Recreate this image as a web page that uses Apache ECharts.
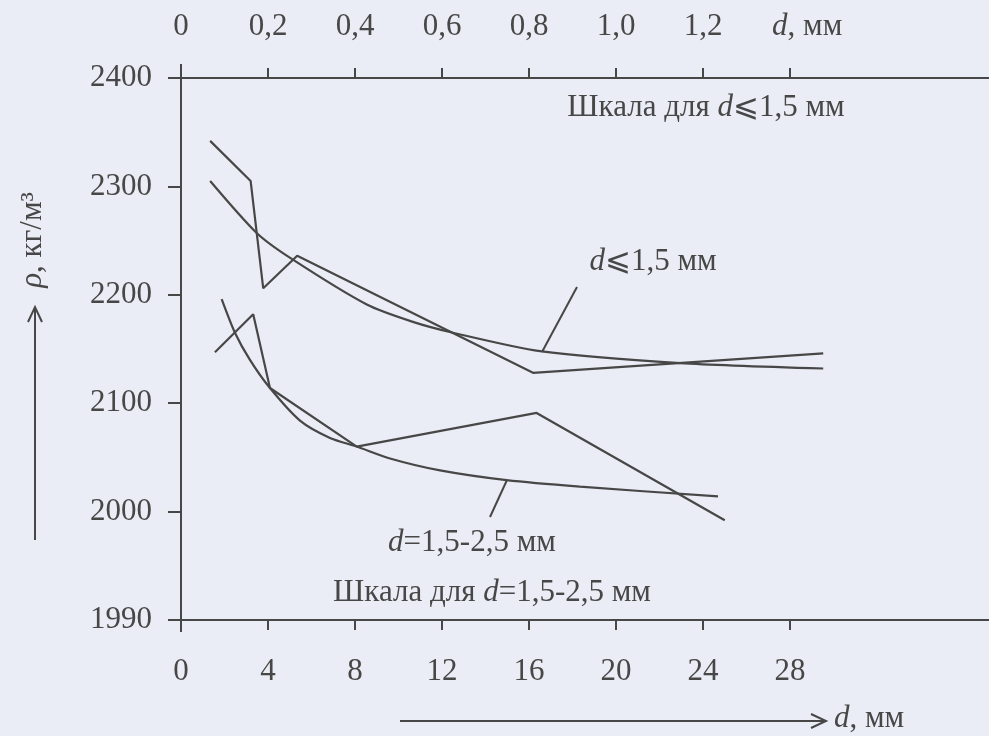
<!DOCTYPE html>
<html>
<head>
<meta charset="utf-8">
<script src="https://cdn.jsdelivr.net/npm/echarts@6/dist/echarts.min.js"></script>
<style>
html, body { margin: 0; padding: 0; background: #eaedf5; }
#main { width: 989px; height: 736px; }
</style>
</head>
<body>
<div id="main"></div>
<script>
// шкала для d <= 1,5 мм (верхняя ось)
var dSmallA = [0.067, 0.16, 0.189, 0.267, 0.809, 1.476];
var rhoSmallA = [2342, 2305, 2206, 2236, 2128, 2146];
var dSmallB = [0.067, 0.174, 0.251, 0.427, 0.533, 0.625, 0.825, 1.147, 1.476];
var rhoSmallB = [2305, 2257, 2234, 2191, 2175, 2165, 2148, 2137, 2132];
// шкала для d = 1,5-2,5 мм (нижняя ось)
var dLargeC = [1.87, 2.48, 3.17, 4.09, 5.47, 6.85, 8.08, 9.61, 11.91, 14.97, 18.34, 24.69];
var rhoLargeC = [2196, 2165, 2140, 2114, 2084, 2068, 2060, 2049, 2038, 2029, 2023, 2014];
var dLargeD = [1.56, 3.32, 4.09, 8.08, 16.35, 25.0];
var rhoLargeD = [2147, 2182, 2114, 2060, 2091, 1992];

// подписи осей
var topTicks = [0, 0.2, 0.4, 0.6, 0.8, 1.0, 1.2, 1.4];
var bottomTicks = [0, 4, 8, 12, 16, 20, 24, 28];
var rhoTicks = [1900, 2000, 2100, 2200, 2300, 2400];
var rhoLabels = ['1990', '2000', '2100', '2200', '2300', '2400'];

function pairs(xs, ys) {
    return xs.map(function (x, i) { return [x, ys[i]]; });
}

var ink = '#474747';
var font = '"Liberation Serif", "DejaVu Serif", serif';
var rich = {
    i: { fontStyle: 'italic', fontFamily: font, fontSize: 31, color: ink },
    j: { fontStyle: 'italic', fontFamily: font, fontSize: 31, color: ink, padding: [0, 0, 0, 34] }
};

var myChart = echarts.init(document.getElementById('main'));

var option = {
    backgroundColor: '#eaedf5',
    animation: false,
    grid: { left: 181, right: 0, top: 78, bottom: 116 },
    xAxis: [
        {
            type: 'value', position: 'top', min: 0, max: 1.857, interval: 0.2,
            splitLine: { show: false },
            axisLine: { onZero: false, lineStyle: { color: ink, width: 2 } },
            axisTick: { customValues: topTicks.slice(1), length: 10, lineStyle: { color: ink, width: 2 } },
            axisLabel: {
                customValues: topTicks, margin: 36, fontSize: 31, fontFamily: font, color: ink, rich: rich,
                formatter: function (v) {
                    if (Math.abs(v - 1.4) < 1e-6) return '{j|d}, мм';
                    return v === 0 ? '0' : v.toFixed(1).replace('.', ',');
                }
            }
        },
        {
            type: 'value', position: 'bottom', min: 0, max: 37.15, interval: 4,
            splitLine: { show: false },
            axisLine: { onZero: false, lineStyle: { color: ink, width: 2 } },
            axisTick: { customValues: bottomTicks.slice(1), length: 10, lineStyle: { color: ink, width: 2 } },
            axisLabel: { customValues: bottomTicks, margin: 36, fontSize: 31, fontFamily: font, color: ink }
        }
    ],
    yAxis: {
        type: 'value', min: 1900, max: 2400, interval: 100,
        splitLine: { show: false },
        axisLine: { lineStyle: { color: ink, width: 2 } },
        axisTick: { customValues: rhoTicks, length: 13, lineStyle: { color: ink, width: 2 } },
        axisLabel: {
            customValues: rhoTicks, margin: 29, fontSize: 31, fontFamily: font, color: ink,
            formatter: function (v) { return rhoLabels[rhoTicks.indexOf(v)]; }
        }
    },
    series: [
        { type: 'line', xAxisIndex: 0, data: pairs(dSmallA, rhoSmallA), symbol: 'none', lineStyle: { color: ink, width: 2.2 } },
        { type: 'line', xAxisIndex: 0, data: pairs(dSmallB, rhoSmallB), symbol: 'none', smooth: 0.25, lineStyle: { color: ink, width: 2.2 } },
        { type: 'line', xAxisIndex: 1, data: pairs(dLargeC, rhoLargeC), symbol: 'none', smooth: 0.25, lineStyle: { color: ink, width: 2.2 } },
        { type: 'line', xAxisIndex: 1, data: pairs(dLargeD, rhoLargeD), symbol: 'none', lineStyle: { color: ink, width: 2.2 } }
    ],
    graphic: [
        // ось ρ чуть выходит за рамку
        { type: 'line', shape: { x1: 181, y1: 64, x2: 181, y2: 632 }, style: { stroke: ink, lineWidth: 2 } },
        { type: 'text', x: 706, y: 108, style: { text: 'Шкала для {i|d}⩽1,5 мм', rich: rich, font: '31px ' + font, fill: ink, align: 'center', verticalAlign: 'middle' } },
        { type: 'text', x: 653, y: 262, style: { text: '{i|d}⩽1,5 мм', rich: rich, font: '31px ' + font, fill: ink, align: 'center', verticalAlign: 'middle' } },
        { type: 'line', shape: { x1: 542, y1: 352, x2: 577, y2: 287 }, style: { stroke: ink, lineWidth: 2 } },
        { type: 'text', x: 472, y: 543, style: { text: '{i|d}=1,5-2,5 мм', rich: rich, font: '31px ' + font, fill: ink, align: 'center', verticalAlign: 'middle' } },
        { type: 'line', shape: { x1: 507, y1: 480, x2: 490, y2: 517 }, style: { stroke: ink, lineWidth: 2 } },
        { type: 'text', x: 492, y: 593, style: { text: 'Шкала для {i|d}=1,5-2,5 мм', rich: rich, font: '31px ' + font, fill: ink, align: 'center', verticalAlign: 'middle' } },
        // подпись оси ρ со стрелкой
        { type: 'text', x: 33, y: 240, rotation: Math.PI / 2, style: { text: '{i|ρ}, кг/м³', rich: rich, font: '31px ' + font, fill: ink, align: 'center', verticalAlign: 'middle' } },
        { type: 'line', shape: { x1: 35, y1: 540, x2: 35, y2: 307 }, style: { stroke: ink, lineWidth: 2 } },
        { type: 'polyline', shape: { points: [[28, 322], [35, 307], [42, 322]] }, style: { stroke: ink, lineWidth: 2, fill: null } },
        // стрелка оси d
        { type: 'line', shape: { x1: 400, y1: 721, x2: 826, y2: 721 }, style: { stroke: ink, lineWidth: 2 } },
        { type: 'polyline', shape: { points: [[811, 714], [826, 721], [811, 728]] }, style: { stroke: ink, lineWidth: 2, fill: null } },
        { type: 'text', x: 834, y: 719, style: { text: '{i|d}, мм', rich: rich, font: '31px ' + font, fill: ink, align: 'left', verticalAlign: 'middle' } }
    ]
};

myChart.setOption(option);
</script>
</body>
</html>
